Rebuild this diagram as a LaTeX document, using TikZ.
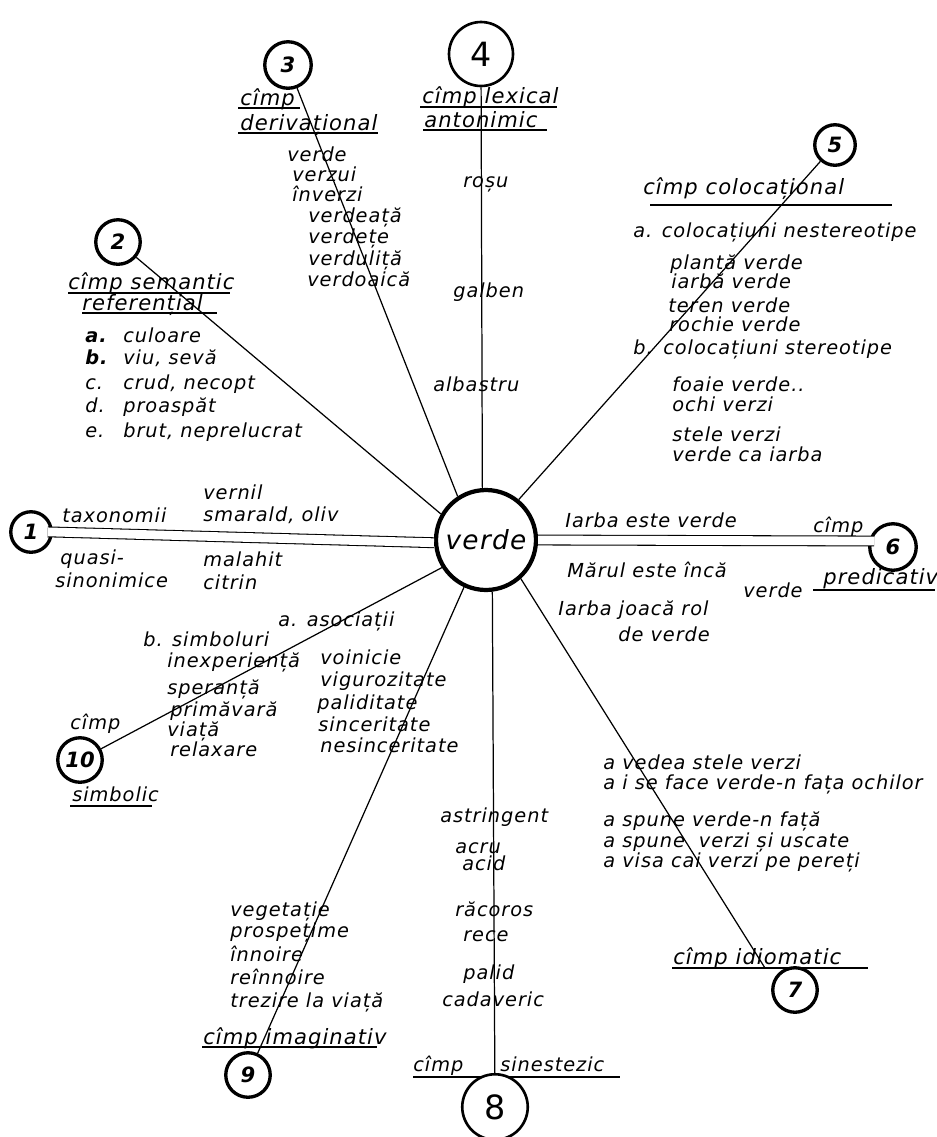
\documentclass[tikz,border=0pt]{standalone}
\usepackage{fontspec}
\setmainfont{DejaVu Sans}
\newfontfamily\hand[LetterSpace=5]{DejaVu Sans}
\usetikzlibrary{positioning}
\tikzset{
  hub/.style={circle, draw, line width=2.4pt, fill=white, minimum size=2.0cm, inner sep=0pt, font=\fontsize{15}{17}\selectfont\hand\itshape},
  fieldnum/.style={circle, draw, line width=1.9pt, fill=white, minimum size=0.89cm, inner sep=0pt, font=\fontsize{12}{14}\selectfont\bfseries\itshape},
  bignum/.style={circle, draw, line width=1.5pt, fill=white, minimum size=1.28cm, inner sep=0pt, font=\fontsize{19}{21}\selectfont},
  word/.style={anchor=mid west, inner sep=0pt, font=\fontsize{11}{13}\selectfont\hand\itshape},
  head/.style={word, font=\fontsize{12}{14}\selectfont\hand\itshape},
  ray/.style={line width=0.7pt},
  twin/.style={double, double distance=5pt, line width=0.6pt},
  uline/.style={line width=0.6pt}
}
\begin{document}
\begin{tikzpicture}[x=0.02cm, y=-0.02cm]
  \fill[white] (0,0) rectangle (937,1137);
  \useasboundingbox (0,0) rectangle (937,1137);

  % underlines first, circles sit on them
  \draw[uline] (238,108) -- (300,108);
  \draw[uline] (238,133) -- (378,133);
  \draw[uline] (420,107) -- (557,107);
  \draw[uline] (423,130) -- (547,130);
  \draw[uline] (68,293) -- (230,293);
  \draw[uline] (82,313) -- (217,313);
  \draw[uline] (650,205) -- (892,205);
  \draw[uline] (813,590) -- (935,590);
  \draw[uline] (672,968) -- (868,968);
  \draw[uline] (413,1077) -- (620,1077);
  \draw[uline] (202,1047) -- (377,1047);
  \draw[uline] (70,806) -- (152,806);

  \node[hub] (verde) at (486,540) {verde};
  \node[fieldnum, minimum size=0.81cm] (c1) at (31,532) {1};
  \node[fieldnum] (c2) at (118,242) {2};
  \node[fieldnum, minimum size=0.93cm] (c3) at (288,65) {3};
  \node[bignum] (c4) at (481,54) {4};
  \node[fieldnum, minimum size=0.81cm] (c5) at (835,145) {5};
  \node[fieldnum, minimum size=0.93cm] (c6) at (893,547) {6};
  \node[fieldnum] (c7) at (795,990) {7};
  \node[bignum, minimum size=1.31cm] (c8) at (495,1107) {8};
  \node[fieldnum] (c9) at (248,1075) {9};
  \node[fieldnum] (c10) at (80,760) {10};
  \coordinate (e7) at (765,968);

  \draw[twin, shorten <=-3pt] (c1.east) -- (verde.183);
  \draw[twin, shorten >=-3pt] (verde.east) -- (c6.166);
  \draw[ray] (verde.150) -- (c2);
  \draw[ray] (verde.123) -- (c3);
  \draw[ray] (verde.94) -- (c4);
  \draw[ray] (verde.51) -- (c5);
  \draw[ray] (verde.-48) -- (e7);
  \draw[ray] (verde.-83) -- (c8);
  \draw[ray] (verde.-115) -- (c9);
  \draw[ray] (verde.-148) -- (c10);

  % 1
  \node[word] (f1a) at (62,518) {taxonomii};
  \node[word] (f1b) at (60,560) {quasi-};
  \node[word] (f1c) at (55,583) {sinonimice};
  \node[word] (w1a) at (203,495) {vernil};
  \node[word] (w1b) at (203,517) {smarald, oliv};
  \node[word] (w1c) at (203,562) {malahit};
  \node[word] (w1d) at (203,585) {citrin};
  % 2
  \node[head] (f2a) at (68,285) {cîmp semantic};
  \node[head] (f2b) at (82,306) {referențial};
  \node[word, font=\fontsize{11}{13}\selectfont\hand\bfseries\itshape] (l2a) at (85,338) {a.};
  \node[word, font=\fontsize{11}{13}\selectfont\hand\bfseries\itshape] (l2b) at (85,360) {b.};
  \node[word] (l2c) at (85,385) {c.};
  \node[word] (l2d) at (85,408) {d.};
  \node[word] (l2e) at (85,433) {e.};
  \node[word] (w2a) at (123,338) {culoare};
  \node[word] (w2b) at (123,360) {viu, sevă};
  \node[word] (w2c) at (123,385) {crud, necopt};
  \node[word] (w2d) at (123,408) {proaspăt};
  \node[word] (w2e) at (123,433) {brut, neprelucrat};
  % 3
  \node[head] (f3a) at (240,101) {cîmp};
  \node[head] (f3b) at (240,126) {derivațional};
  \node[word] (w3a) at (287,157) {verde};
  \node[word] (w3b) at (292,177) {verzui};
  \node[word] (w3c) at (292,197) {înverzi};
  \node[word] (w3d) at (308,218) {verdeață};
  \node[word] (w3e) at (308,239) {verdețe};
  \node[word] (w3f) at (308,261) {verduliță};
  \node[word] (w3g) at (307,282) {verdoaică};
  % 4
  \node[head] (f4a) at (422,99) {cîmp lexical};
  \node[head] (f4b) at (424,123) {antonimic};
  \node[word] (w4a) at (463,183) {roșu};
  \node[word] (w4b) at (453,293) {galben};
  \node[word] (w4c) at (433,387) {albastru};
  % 5
  \node[head] (f5) at (643,190) {cîmp colocațional};
  \node[word] (l5a) at (633,233) {a. colocațiuni nestereotipe};
  \node[word] (w5a) at (670,265) {plantă verde};
  \node[word] (w5b) at (671,284) {iarbă verde};
  \node[word] (w5c) at (668,308) {teren verde};
  \node[word] (w5d) at (669,327) {rochie verde};
  \node[word] (l5b) at (633,350) {b.\hspace{6pt}colocațiuni stereotipe};
  \node[word] (w5e) at (672,387) {foaie verde..};
  \node[word] (w5f) at (672,407) {ochi verzi};
  \node[word] (w5g) at (672,437) {stele verzi};
  \node[word] (w5h) at (672,457) {verde ca iarba};
  % 6
  \node[word] (w6a) at (565,523) {Iarba este verde};
  \node[word] (f6a) at (813,528) {cîmp};
  \node[head] (f6b) at (823,580) {predicativ};
  \node[word] (w6b) at (567,573) {Mărul este încă};
  \node[word] (w6c) at (743,593) {verde};
  \node[word] (w6d) at (558,611) {Iarba joacă rol};
  \node[word] (w6e) at (618,637) {de verde};
  % 7
  \node[word] (w7a) at (603,765) {a vedea stele verzi};
  \node[word] (w7b) at (603,785) {a i se face verde-n fața ochilor};
  \node[word] (w7c) at (603,822) {a spune verde-n față};
  \node[word] (w7d) at (603,843) {a spune\hspace{8pt}verzi și uscate};
  \node[word] (w7e) at (603,863) {a visa cai verzi pe pereți};
  \node[head] (f7) at (673,960) {cîmp idiomatic};
  % 8
  \node[word] (w8a) at (440,818) {astringent};
  \node[word] (w8b) at (455,849) {acru};
  \node[word] (w8c) at (462,866) {acid};
  \node[word] (w8d) at (455,912) {răcoros};
  \node[word] (w8e) at (463,937) {rece};
  \node[word] (w8f) at (463,975) {palid};
  \node[word] (w8g) at (442,1002) {cadaveric};
  \node[word] (f8a) at (413,1067) {cîmp};
  \node[word] (f8b) at (500,1067) {sinestezic};
  % 9
  \node[word] (w9a) at (230,912) {vegetație};
  \node[word] (w9b) at (230,933) {prospețime};
  \node[word] (w9c) at (230,957) {înnoire};
  \node[word] (w9d) at (230,980) {reînnoire};
  \node[word] (w9e) at (230,1003) {trezire la viață};
  \node[head] (f9) at (203,1040) {cîmp imaginativ};
  % 10
  \node[word] (f10a) at (70,725) {cîmp};
  \node[word] (f10b) at (72,797) {simbolic};
  \node[word] (l10a) at (278,622) {a. asociații};
  \node[word] (l10b) at (143,642) {b. simboluri};
  \node[word] (w10a) at (167,663) {inexperiență};
  \node[word] (w10b) at (167,690) {speranță};
  \node[word] (w10c) at (170,712) {primăvară};
  \node[word] (w10d) at (167,732) {viață};
  \node[word] (w10e) at (170,752) {relaxare};
  \node[word] (w10f) at (320,660) {voinicie};
  \node[word] (w10g) at (320,682) {vigurozitate};
  \node[word] (w10h) at (317,705) {paliditate};
  \node[word] (w10i) at (318,727) {sinceritate};
  \node[word] (w10j) at (320,748) {nesinceritate};
\end{tikzpicture}
\end{document}
